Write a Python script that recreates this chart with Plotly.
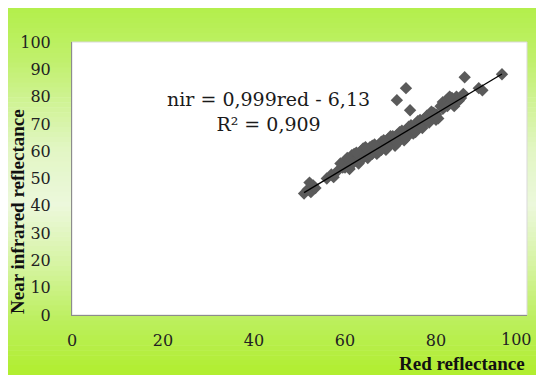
import plotly.graph_objects as go

red = [51.0, 51.8, 52.5, 53.0, 52.2, 53.5,
       56.0, 57.0, 57.5,
       59.5, 60.0, 60.5, 61.0, 61.0, 61.5, 62.0, 62.0, 62.5, 63.0, 63.0,
       63.5, 64.0, 64.0, 64.5, 65.0, 65.0, 65.5, 66.0, 66.0, 66.5,
       67.0, 67.0, 67.5, 68.0, 68.0, 68.5, 69.0, 69.0, 69.5, 70.0,
       70.0, 70.5, 71.0, 71.0, 71.5, 72.0, 72.0, 72.5, 73.0, 73.0,
       73.5, 74.0, 74.0, 74.5, 75.0, 75.0, 75.5, 76.0, 76.0, 76.5,
       77.0, 77.5, 78.0, 78.5, 79.0, 79.5, 80.0, 80.5,
       81.0, 81.5, 82.0, 82.5, 83.0, 83.5, 84.0, 84.5, 85.0, 85.5, 86.0,
       58.5, 59.0, 60.0, 60.5, 61.5, 62.5, 63.5, 64.5, 65.5, 66.5,
       67.5, 68.5, 69.5, 70.5, 71.5, 72.5, 73.5, 74.5, 75.5, 76.5,
       77.0, 78.0, 78.5, 79.0, 80.0, 81.5, 82.5, 83.0, 84.0,
       73.4, 71.4, 74.3, 94.5, 86.3, 89.4, 90.2, 80.0]
nir = [44.5, 46.0, 45.0, 47.5, 48.5, 46.5,
       50.0, 51.5, 50.5,
       54.0, 56.5, 55.0, 57.5, 53.5, 58.5, 56.0, 59.0, 57.0, 58.5, 55.5,
       60.0, 57.5, 61.0, 59.0, 60.5, 57.5, 61.5, 59.0, 62.0, 60.5,
       61.5, 59.0, 62.5, 60.5, 63.5, 62.0, 63.0, 60.5, 64.5, 62.5,
       65.5, 63.5, 64.5, 62.0, 66.0, 64.0, 67.0, 65.5, 66.5, 64.0,
       68.0, 66.0, 69.0, 67.5, 68.5, 66.5, 70.0, 68.5, 71.0, 69.5,
       70.5, 72.0, 71.0, 73.0, 72.0, 74.0, 73.5, 72.0,
       76.5, 78.0, 77.0, 79.0, 77.5, 79.5, 78.0, 80.0, 78.5, 79.5, 81.0,
       53.0, 55.5, 54.0, 57.5, 55.5, 59.5, 57.0, 61.5, 58.5, 62.5,
       60.0, 64.0, 61.5, 65.5, 63.0, 67.5, 65.0, 69.5, 67.0, 71.5,
       68.5, 73.0, 70.5, 74.5, 71.5, 75.5, 76.5, 80.0, 76.5,
       83.1, 78.7, 75.0, 88.2, 87.1, 83.1, 82.3, 72.8]

slope = 0.999
intercept = -6.13
r2 = 0.909
x_ticks = [0, 20, 40, 60, 80, 100]
x_tick_labels = ["0", "20", "40", "60", "80", "100"]
y_ticks = [0, 10, 20, 30, 40, 50, 60, 70, 80, 90, 100]

serif = "Liberation Serif, Times New Roman, serif"
wide_serif = "DejaVu Serif, serif"

# page body has an 8px margin, so the figure is drawn from screen (8, 8)
OFF = 8
W, H = 536, 367
L, R, T, B = 64, 17, 34, 60
pw, ph = W - L - R, H - T - B


def px_to_paper(sx, sy):
    fx, fy = sx - OFF, sy - OFF
    return (fx - L) / pw, (H - B - fy) / ph


fig = go.Figure()

# vertical gradient background (colour stops in screen rows)
stops = [(8, (0xb3, 0xef, 0x4b)), (60, (0xc0, 0xf0, 0x6c)), (150, (0xe2, 0xf6, 0xc4)),
         (205, (0xec, 0xf8, 0xdc)), (265, (0xd6, 0xf4, 0xa2)), (320, (0xbc, 0xef, 0x5e)),
         (375, (0xb0, 0xee, 0x2e))]
nb = 74
for i in range(nb):
    ya = 8 + i * (375 - 8) / nb
    yb = 8 + (i + 1) * (375 - 8) / nb
    ym = (ya + yb) / 2
    for (s0, c0), (s1, c1) in zip(stops[:-1], stops[1:]):
        if s0 <= ym <= s1:
            t = (ym - s0) / (s1 - s0)
            col = tuple(int(round(a + (b - a) * t)) for a, b in zip(c0, c1))
            break
    xa, y_top = px_to_paper(8, ya)
    xb, y_bot = px_to_paper(544, yb + 0.6)
    fig.add_shape(type="rect", xref="paper", yref="paper",
                  x0=xa, x1=xb, y0=y_bot, y1=y_top,
                  fillcolor="rgb(%d,%d,%d)" % col, line=dict(width=0), layer="below")
fig.add_shape(type="rect", xref="paper", yref="paper", x0=0, x1=1, y0=0, y1=1,
              fillcolor="white", line=dict(color="#d9d9d9", width=1), layer="below")

fig.add_trace(go.Scatter(x=red, y=nir, mode="markers",
                         marker=dict(symbol="diamond", size=9.5, color="#5a5a5a"),
                         showlegend=False))

x0 = min(red)
x1 = max(red)
fig.add_trace(go.Scatter(x=[x0, x1], y=[slope * x0 + intercept, slope * x1 + intercept],
                         mode="lines", line=dict(color="black", width=1.3),
                         showlegend=False))

eq_text = (f"nir = {str(slope).replace('.', ',')}red - {str(-intercept).replace('.', ',')}"
           f"<br>R² = {str(r2).replace('.', ',')}")
ax, ay = px_to_paper(268, 111)
fig.add_annotation(x=ax, y=ay, xref="paper", yref="paper", xanchor="center", yanchor="middle",
                   text=eq_text, showarrow=False, align="center",
                   font=dict(family=wide_serif, size=19, color="#1a1a1a"))

ax, ay = px_to_paper(17, 212)
fig.add_annotation(x=ax, y=ay, xref="paper", yref="paper", xanchor="center", yanchor="middle",
                   text="<b>Near infrared reflectance</b>", textangle=-90,
                   showarrow=False, font=dict(family=serif, size=19, color="#111"))

ax, ay = px_to_paper(527, 363)
fig.add_annotation(x=ax, y=ay, xref="paper", yref="paper", xanchor="right", yanchor="middle",
                   text="<b>Red reflectance</b>", showarrow=False,
                   font=dict(family=serif, size=19, color="#111"))

# the last x label is drawn as a right-anchored text at its tick so it stays in view
x_text = x_tick_labels[:-1] + [""]
_, ly = px_to_paper(0, 339)
fig.add_annotation(x=x_ticks[-1], xref="x", y=ly, yref="paper",
                   xanchor="right", yanchor="middle", xshift=7,
                   text=x_tick_labels[-1], showarrow=False,
                   font=dict(family=wide_serif, size=16, color="#222"))

fig.update_layout(
    width=W, height=H,
    margin=dict(l=L, r=R, t=T, b=B, autoexpand=False),
    paper_bgcolor="white", plot_bgcolor="rgba(0,0,0,0)",
    xaxis=dict(range=[0, 100], tickvals=x_ticks, ticktext=x_text,
               showgrid=False, zeroline=False,
               showline=True, linecolor="#8c8c8c", linewidth=1, automargin=False,
               ticks="", ticklabelstandoff=11, ticklabeloverflow="allow",
               tickfont=dict(family=wide_serif, size=16, color="#222")),
    yaxis=dict(range=[0, 100], tickvals=y_ticks, showgrid=False, zeroline=False,
               showline=True, linecolor="#8c8c8c", linewidth=1, automargin=False,
               ticks="", ticklabelstandoff=17, ticklabeloverflow="allow",
               tickfont=dict(family=wide_serif, size=16, color="#222")),
)

fig.write_html("out.html")
